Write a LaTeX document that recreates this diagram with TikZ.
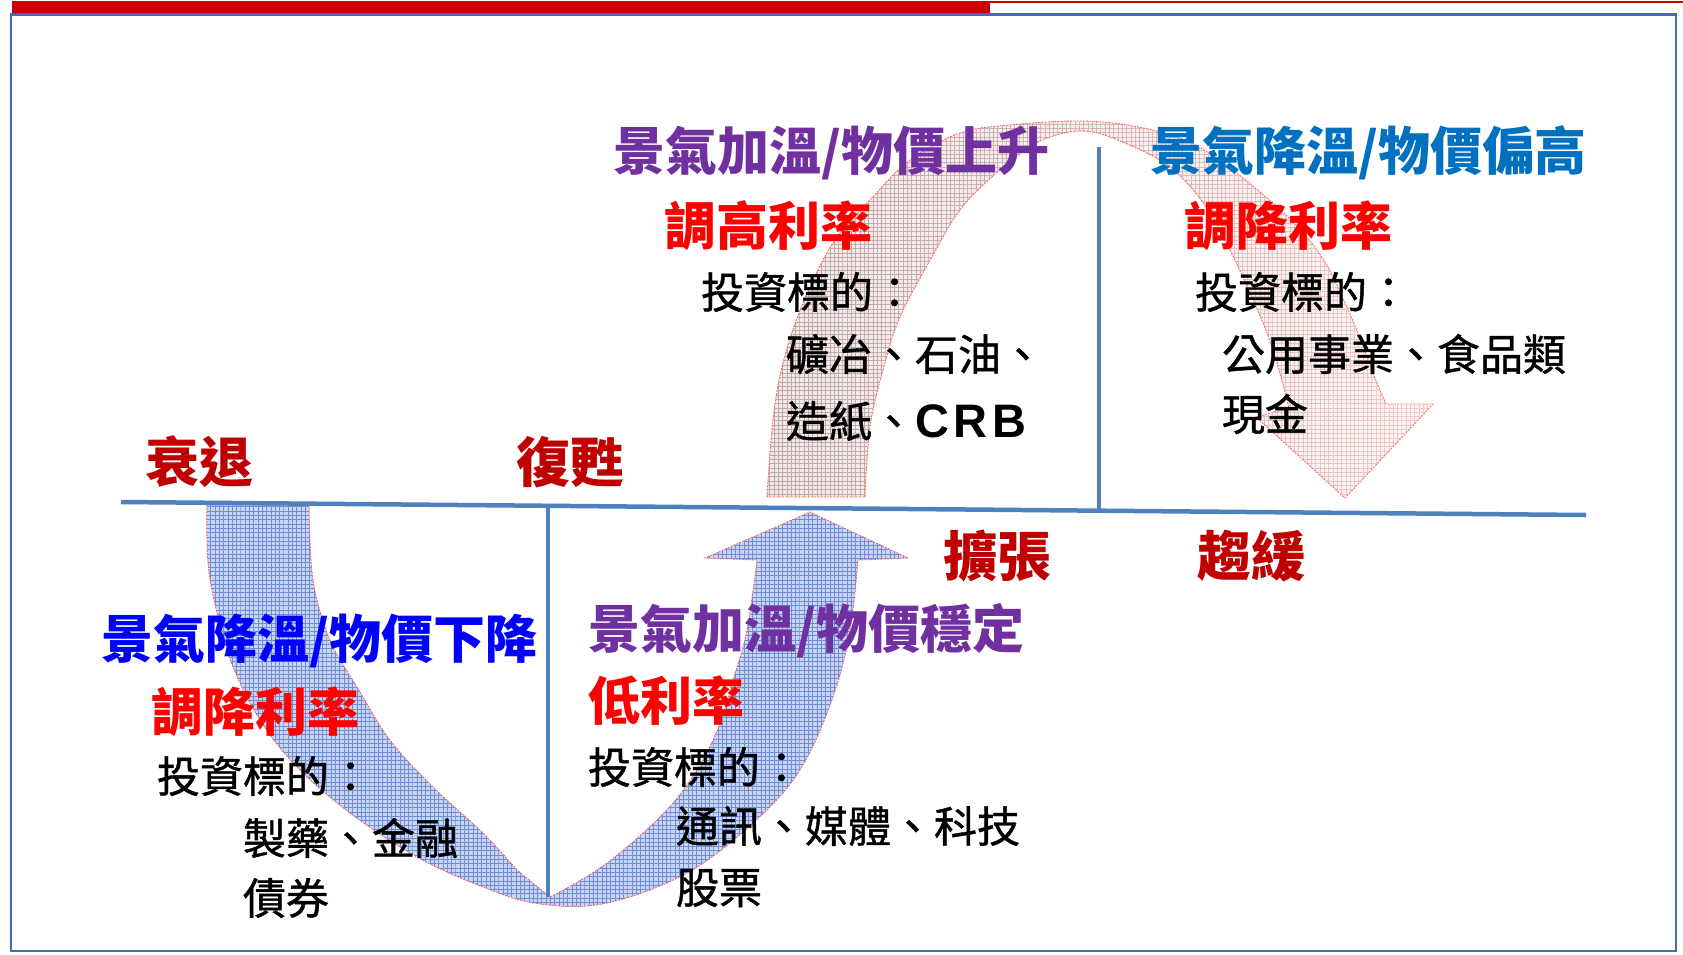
\documentclass[tikz,border=0pt]{standalone}
\usepackage{fontspec}
\newfontfamily\cjk{Noto Sans CJK TC}
\newfontfamily\cjkm{Noto Sans CJK TC}[FakeBold=1]
\newfontfamily\latinb{Liberation Sans}
\usetikzlibrary{patterns.meta,fadings}
\definecolor{barred}{HTML}{CC0000}
\definecolor{framebl}{HTML}{3E6FAE}
\definecolor{axisbl}{HTML}{4F81BD}
\definecolor{hpurple}{HTML}{7030A0}
\definecolor{hblue}{HTML}{0070C0}
\definecolor{hpureblue}{HTML}{0000FF}
\definecolor{hred}{HTML}{FF0000}
\definecolor{hdark}{HTML}{C00000}
\definecolor{bluebg}{HTML}{C8D6F3}
\definecolor{bluegrid}{HTML}{6F8CD6}
\definecolor{pinkbgA}{HTML}{F2EAEA}
\definecolor{pinkbgB}{HTML}{FCF3F3}
\definecolor{pinklight}{HTML}{F2CCCC}
\definecolor{pinkdark}{HTML}{BCA6A6}
\definecolor{edgered}{HTML}{FF6A6A}
\tikzdeclarepattern{
  name=gridfour,
  bottom left={(-0.5pt,-0.5pt)},
  top right={(4.8pt,4.8pt)},
  tile size={(4.3pt,4.3pt)},
  code={
    \pgfsetlinewidth{0.7pt}
    \pgfpathmoveto{\pgfqpoint{0pt}{0pt}}
    \pgfpathlineto{\pgfqpoint{4.3pt}{0pt}}
    \pgfpathmoveto{\pgfqpoint{0pt}{0pt}}
    \pgfpathlineto{\pgfqpoint{0pt}{4.3pt}}
    \pgfusepath{stroke}
  }
}
\tikzset{
  hd/.style={anchor=west, inner sep=0pt, outer sep=0pt, font=\cjk\bfseries\fontsize{52}{52}\selectfont},
  phase/.style={hd, text=hdark, font=\cjk\bfseries\fontsize{54}{54}\selectfont},
  bt/.style={anchor=west, inner sep=0pt, outer sep=0pt, text=black, font=\cjkm\fontsize{43}{43}\selectfont},
  arrowedge/.style={draw=edgered, line width=0.9pt, dash pattern=on 2pt off 1.2pt},
  axisline/.style={draw=axisbl, line width=4.5pt}
}
\def\pinkpath{plot[smooth, tension=0.6] coordinates {(767,497) (773,420) (783,363) (803,303) (833,243) (870,200) (910,160) (960,133) (1010,125) (1077,121) (1127,125) (1177,137) (1215,157) (1260,192) (1298,227) (1325,262) (1345,303) (1362,343) (1375,378) (1386,404)}
  -- (1433,404) -- (1345,498) -- (1256,417)
  -- plot[smooth, tension=0.6] coordinates {(1289,408) (1279,370) (1267,333) (1250,293) (1230,250) (1210,213) (1187,183) (1160,160) (1110,137) (1080,131) (1050,137) (1027,149) (993,176) (960,210) (933,255) (900,317) (883,370) (870,427) (865,497)}
  -- cycle}
\def\bluepath{plot[smooth, tension=0.6] coordinates {(207,505) (208,563) (217,613) (233,667) (260,720) (297,767) (350,813) (417,857) (483,887) (540,904) (607,903) (687,873) (753,823) (800,770) (833,697) (850,630) (858,560)}
  -- (908,558) -- (810,512) -- (705,558)
  -- plot[smooth, tension=0.6] coordinates {(757,560) (747,630) (733,680) (713,740) (673,803) (607,863) (550,897)}
  -- plot[smooth, tension=0.6] coordinates {(517,870) (483,833) (433,787) (390,740) (357,687) (330,640) (313,580) (309,505)}
  -- cycle}
\begin{document}
\begin{tikzpicture}[x=1pt,y=-1pt]
\useasboundingbox (0,0) rectangle (1683,954);
\fill[white] (0,0) rectangle (1683,954);
% header bar
\fill[barred] (12,1) rectangle (990,13);
\fill[barred] (990,1) rectangle (1683,2.8);
% frame
\draw[framebl, line width=2pt] (11,14) rectangle (1676,951);
\draw[framebl, line width=3pt] (11,14.5) -- (1676,14.5);

% pink (upper) arrow
\path[left color=pinkbgA, right color=pinkbgB] \pinkpath;
\path[pattern=gridfour, pattern color=pinklight] \pinkpath;
\path[pattern=gridfour, pattern color=pinkdark, path fading=east] \pinkpath;
\path[arrowedge] \pinkpath;

% blue (lower) arrow
\path[fill=bluebg] \bluepath;
\path[pattern=gridfour, pattern color=bluegrid] \bluepath;
\path[arrowedge] \bluepath;

% axes
\coordinate (axL) at (121,502);
\coordinate (axR) at (1586,515);
\coordinate (v1t) at (548,505);
\coordinate (v1b) at (548,897);
\coordinate (v2t) at (1099,147);
\coordinate (v2b) at (1099,511);
\draw[axisline] (axL) -- (axR);
\draw[axisline] (v1t) -- (v1b);
\draw[axisline] (v2t) -- (v2b);

% upper-middle quadrant
\node[hd, text=hpurple] (q1a) at (613,153) {景氣加溫/物價上升};
\node[hd, text=hred] (q1b) at (664,226) {調高利率};
\node[bt] (q1c) at (701,292) {投資標的：};
\node[bt] (q1d) at (786,354) {礦冶、石油、};
\node[bt] (q1e) at (786,421) {造紙、{\latinb\bfseries\fontsize{47}{47}\selectfont C\kern5pt R\kern5pt B}};

% upper-right quadrant
\node[hd, text=hblue] (q2a) at (1150,153) {景氣降溫/物價偏高};
\node[hd, text=hred] (q2b) at (1184,226) {調降利率};
\node[bt] (q2c) at (1195,292) {投資標的：};
\node[bt] (q2d) at (1222,354) {公用事業、食品類};
\node[bt] (q2e) at (1222,414) {現金};

% phase labels
\node[phase] (p1) at (145,462) {衰退};
\node[phase] (p2) at (516,462) {復甦};
\node[phase] (p3) at (943,556) {擴張};
\node[phase] (p4) at (1197,556) {趨緩};

% lower-left quadrant
\node[hd, text=hpureblue] (q3a) at (101,641) {景氣降溫/物價下降};
\node[hd, text=hred] (q3b) at (151,712) {調降利率};
\node[bt] (q3c) at (157,776) {投資標的：};
\node[bt] (q3d) at (243,838) {製藥、金融};
\node[bt] (q3e) at (243,898) {債券};

% lower-middle quadrant
\node[hd, text=hpurple] (q4a) at (588,631) {景氣加溫/物價穩定};
\node[hd, text=hred] (q4b) at (588,701) {低利率};
\node[bt] (q4c) at (588,767) {投資標的：};
\node[bt] (q4d) at (676,826) {通訊、媒體、科技};
\node[bt] (q4e) at (676,888) {股票};
\end{tikzpicture}
\end{document}
